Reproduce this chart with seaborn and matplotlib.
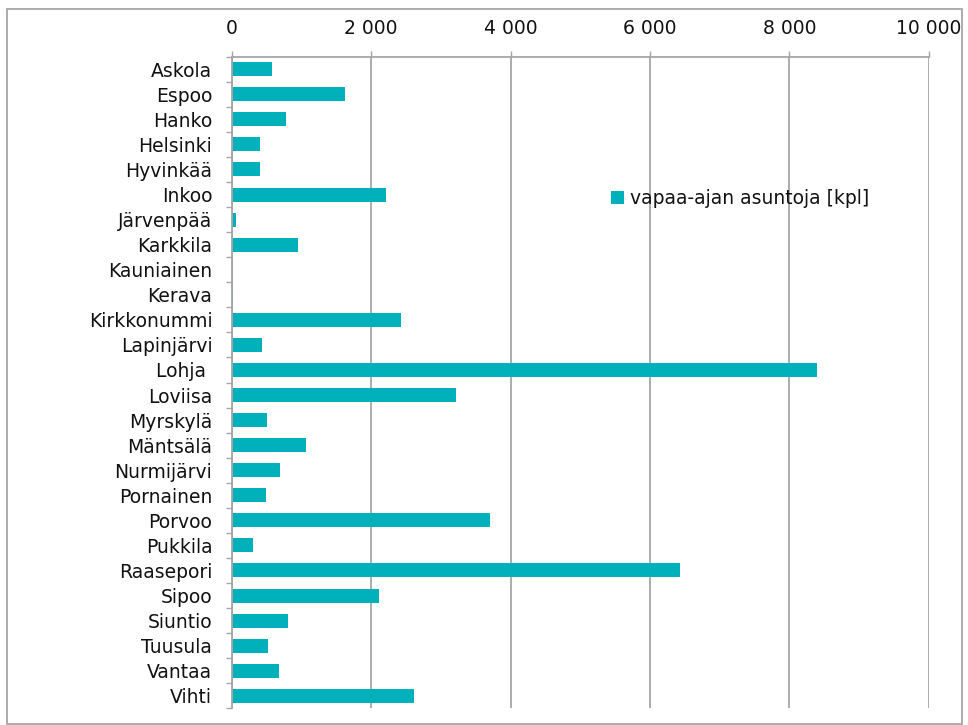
import matplotlib
matplotlib.use("Agg")
import matplotlib.pyplot as plt
import matplotlib.ticker as mticker
from matplotlib.patches import Rectangle
import seaborn as sns
import numpy as np

# Kunnat ja vapaa-ajan asunnot (kpl)
kunnat = ["Askola", "Espoo", "Hanko", "Helsinki", "Hyvinkää", "Inkoo", "Järvenpää",
          "Karkkila", "Kauniainen", "Kerava", "Kirkkonummi", "Lapinjärvi", "Lohja ",
          "Loviisa", "Myrskylä", "Mäntsälä", "Nurmijärvi", "Pornainen", "Porvoo",
          "Pukkila", "Raasepori", "Sipoo", "Siuntio", "Tuusula", "Vantaa", "Vihti"]
asunnot = [573, 1623, 774, 405, 410, 2215, 66,
           950, 0, 23, 2430, 438, 8404,
           3218, 506, 1060, 692, 496, 3701,
           301, 6433, 2106, 802, 524, 682, 2612]
x_ticks = [0, 2000, 4000, 6000, 8000, 10000]

sarja = "vapaa-ajan asuntoja [kpl]"
bar_color = "#00B0BA"
grid_color = "#A6A6A6"
fs = 13.5

sns.set_theme(style="white")
plt.rcParams['font.family'] = ['DejaVu Sans']
plt.rcParams['font.size'] = fs

fig = plt.figure(figsize=(9.68, 7.25), dpi=100)
ax = fig.add_axes([0.2394, 0.023, 0.72, 0.8988])

sns.barplot(x=asunnot, y=kunnat, orient="h", color=bar_color, saturation=1,
            width=0.56, linewidth=0, label=sarja, ax=ax)

ax.set_xlim(0, 10000)
ax.set_ylim(len(kunnat) - 0.5, -0.5)
ax.set_xticks(x_ticks)
ax.xaxis.set_major_formatter(mticker.FuncFormatter(lambda v, p: f"{int(v):,}".replace(",", " ")))
ax.xaxis.tick_top()
ax.tick_params(axis="x", direction="out", length=4.3, width=1, color=grid_color,
               pad=9, labelsize=fs, labelcolor="#111111")

# y-akselin väliviivat luokkien rajoilla
ax.set_yticks(np.arange(len(kunnat) + 1) - 0.5, minor=True)
ax.tick_params(axis="y", which="major", length=0, pad=14, labelsize=fs, labelcolor="#111111")
ax.tick_params(axis="y", which="minor", direction="out", length=4.3, width=1, color=grid_color, left=True)

ax.grid(axis="x", color=grid_color, linewidth=1.3)
ax.set_axisbelow(True)
for side in ["right", "bottom"]:
    ax.spines[side].set_visible(False)
for side in ["left", "top"]:
    ax.spines[side].set_color(grid_color)
    ax.spines[side].set_linewidth(1.3)
ax.set_xlabel("")
ax.set_ylabel("")

leg = ax.legend(loc="center left", bbox_to_anchor=(0.52, 0.782), frameon=False,
                handlelength=0.7, handleheight=0.7, handletextpad=0.3, fontsize=fs)
for t in leg.get_texts():
    t.set_color("#111111")

# kehys koko kuvan ympärille
fig.patches.append(Rectangle((7 / 968, 1 / 725), 955 / 968, 715 / 725, transform=fig.transFigure,
                             fill=False, edgecolor=grid_color, linewidth=1.3))

fig.savefig("out.png", dpi=100)
